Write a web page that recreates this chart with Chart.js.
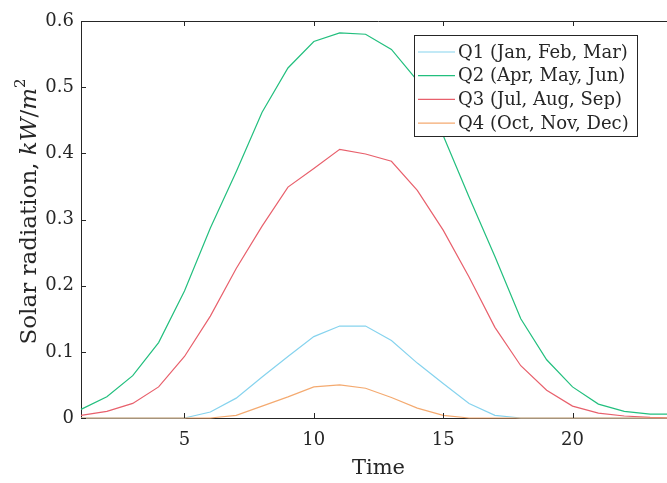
<!DOCTYPE html>
<html>
<head>
<meta charset="utf-8">
<script src="https://cdn.jsdelivr.net/npm/chart.js@4.4.1/dist/chart.umd.min.js"></script>
<style>
  html, body { margin: 0; padding: 0; background: #fff; overflow: hidden; }
  #wrap { width: 700px; height: 483px; }
</style>
</head>
<body>
<div id="wrap"><canvas id="solar" width="700" height="483"></canvas></div>
<script>
// hours of the day
const hours = [1, 2, 3, 4, 5, 6, 7, 8, 9, 10, 11, 12, 13, 14, 15, 16, 17, 18, 19, 20, 21, 22, 23, 24];
// mean solar radiation per quarter, kW/m^2
const q1 = [0, 0, 0, 0, 0, 0.009, 0.030, 0.062, 0.093, 0.123, 0.139, 0.139, 0.117, 0.083, 0.052, 0.022, 0.004, 0, 0, 0, 0, 0, 0, 0];
const q2 = [0.013, 0.032, 0.064, 0.114, 0.192, 0.287, 0.372, 0.462, 0.529, 0.569, 0.582, 0.580, 0.557, 0.510, 0.427, 0.334, 0.244, 0.150, 0.088, 0.047, 0.021, 0.010, 0.006, 0.006];
const q3 = [0.004, 0.010, 0.022, 0.047, 0.093, 0.154, 0.226, 0.290, 0.349, 0.377, 0.406, 0.399, 0.388, 0.344, 0.284, 0.213, 0.137, 0.079, 0.042, 0.018, 0.0075, 0.003, 0.001, 0];
const q4 = [0, 0, 0, 0, 0, 0, 0.004, 0.018, 0.032, 0.047, 0.050, 0.045, 0.031, 0.015, 0.004, 0, 0, 0, 0, 0, 0, 0, 0, 0];

const labels = ['Q1 (Jan, Feb, Mar)', 'Q2 (Apr, May, Jun)', 'Q3 (Jul, Aug, Sep)', 'Q4 (Oct, Nov, Dec)'];
const colors = ['#86d3ee', '#22bf7e', '#e8606c', '#f4aa70'];
const xTicks = [5, 10, 15, 20];

const axisColor = '#262626';
const serif = "'DejaVu Serif', serif";

function pts(vals) {
    return vals.map((v, i) => ({ x: hours[i], y: v }));
}

// inward ticks, top border, legend box and y title with italic units
const matlabLook = {
    id: 'matlabLook',
    afterDraw(chart) {
        const ctx = chart.ctx;
        const a = chart.chartArea;
        const xs = chart.scales.x, ys = chart.scales.y;
        ctx.save();
        ctx.strokeStyle = axisColor;
        ctx.lineWidth = 1;
        ctx.beginPath();
        ctx.moveTo(a.left, a.top + 0.5);
        ctx.lineTo(a.right, a.top + 0.5);
        xTicks.forEach(t => {
            const px = Math.round(xs.getPixelForValue(t)) + 0.5;
            ctx.moveTo(px, a.bottom);
            ctx.lineTo(px, a.bottom - 5);
            ctx.moveTo(px, a.top);
            ctx.lineTo(px, a.top + 5);
        });
        ys.ticks.forEach(t => {
            const py = Math.round(ys.getPixelForValue(t.value)) + 0.5;
            ctx.moveTo(a.left, py);
            ctx.lineTo(a.left + 5, py);
        });
        ctx.stroke();

        // legend
        const bx = 414.5, by = 35.5, bw = 223, bh = 101;
        ctx.fillStyle = '#fff';
        ctx.fillRect(bx, by, bw, bh);
        ctx.strokeRect(bx, by, bw, bh);
        ctx.font = '18px ' + serif;
        ctx.textBaseline = 'middle';
        ctx.textAlign = 'left';
        chart.data.datasets.forEach((ds, i) => {
            const y = 52 + i * 23.7;
            ctx.strokeStyle = ds.borderColor;
            ctx.lineWidth = 1.2;
            ctx.beginPath();
            ctx.moveTo(418, y);
            ctx.lineTo(455, y);
            ctx.stroke();
            ctx.fillStyle = axisColor;
            ctx.fillText(ds.label, 458, y + 1);
        });

        // y title
        ctx.translate(36, (a.top + a.bottom) / 2 - 8);
        ctx.rotate(-Math.PI / 2);
        ctx.fillStyle = axisColor;
        ctx.textBaseline = 'alphabetic';
        const parts = [
            ['Solar radiation, ', '23px ' + serif, 0],
            ['kW', 'italic 23px ' + serif, 0],
            ['/', '23px ' + serif, 0],
            ['m', 'italic 23px ' + serif, 0],
            ['2', '15px ' + serif, -11]
        ];
        let w = 0;
        parts.forEach(p => { ctx.font = p[1]; w += ctx.measureText(p[0]).width; });
        let x = -w / 2;
        parts.forEach(p => {
            ctx.font = p[1];
            ctx.fillText(p[0], x, p[2]);
            x += ctx.measureText(p[0]).width;
        });
        ctx.restore();
    }
};

new Chart(document.getElementById('solar'), {
    type: 'line',
    data: {
        datasets: [q1, q2, q3, q4].map((vals, i) => ({
            label: labels[i],
            data: pts(vals),
            borderColor: colors[i],
            borderWidth: 1.2,
            pointRadius: 0,
            tension: 0,
            fill: false,
            clip: false,
            order: 4 - i
        }))
    },
    options: {
        responsive: false,
        animation: false,
        layout: { padding: { top: 21, right: 24, left: 0, bottom: 0 } },
        plugins: {
            legend: { display: false },
            tooltip: { enabled: false }
        },
        scales: {
            x: {
                type: 'linear',
                min: 1,
                max: 24,
                afterBuildTicks: s => { s.ticks = xTicks.map(v => ({ value: v })); },
                afterFit: s => { s.height = 65; },
                grid: { display: true, drawOnChartArea: false, drawTicks: false },
                border: { display: true, color: axisColor, width: 1 },
                ticks: { padding: 12, color: axisColor, font: { family: serif, size: 18 }, maxRotation: 0 },
                title: { display: true, text: 'Time', color: axisColor, font: { family: serif, size: 21 }, padding: { top: 2, bottom: 2 } }
            },
            y: {
                min: 0,
                max: 0.6,
                afterFit: s => { s.width = 81; },
                grid: { display: true, drawOnChartArea: false, drawTicks: false },
                border: { display: true, color: axisColor, width: 1 },
                ticks: {
                    stepSize: 0.1,
                    padding: 7,
                    color: axisColor,
                    font: { family: serif, size: 18 },
                    callback: v => String(+v.toFixed(1))
                }
            }
        }
    },
    plugins: [matlabLook]
});
</script>
</body>
</html>
